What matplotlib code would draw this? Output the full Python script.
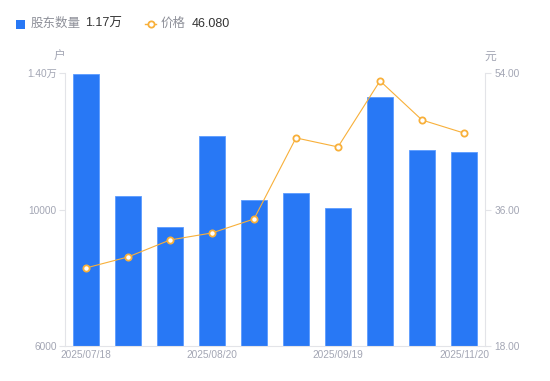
import matplotlib
matplotlib.use("Agg")
import matplotlib.pyplot as plt
from matplotlib.patches import Rectangle
from matplotlib.lines import Line2D

plt.rcParams['font.family'] = ['Liberation Sans', 'Noto Sans CJK SC', 'DejaVu Sans']

# data
dates = ["2025/07/18", "2025/07/31", "2025/08/10", "2025/08/20", "2025/08/29",
         "2025/09/10", "2025/09/19", "2025/09/30", "2025/10/31", "2025/11/20"]
holders = [13970, 10400, 9490, 12160, 10280, 10490, 10050, 13300, 11750, 11680]
price = [28.29, 29.74, 31.98, 32.91, 34.75, 45.44, 44.25, 52.96, 47.80, 46.08]
shown_ticks = [0, 3, 6, 9]
left_ticks = [6000, 10000, 14000]
left_tick_labels = ["6000", "10000", "1.40万"]
right_ticks = [18, 36, 54]

BLUE = "#2878f5"
ORANGE = "#f8b03a"
GRAY = "#a3a6b4"
AXIS = "#e3e4e8"

fig = plt.figure(figsize=(5.5, 3.81), dpi=100)
ax = fig.add_axes([65/550, 35/381, 420/550, 273/381])
x = list(range(len(dates)))
ax.bar(x, holders, width=0.6, color=BLUE, edgecolor="#5c9bff", linewidth=0.6, zorder=2)
ax.set_xlim(-0.5, len(dates) - 0.5)
ax.set_ylim(6000, 14000)
ax.set_yticks(left_ticks)
ax.set_yticklabels(left_tick_labels)
ax.set_xticks(shown_ticks)
ax.set_xticklabels([dates[i] for i in shown_ticks])

ax2 = ax.twinx()
ax2.plot(x, price, color=ORANGE, linewidth=0.8, marker="o", markersize=4.5,
         markerfacecolor="white", markeredgecolor=ORANGE, markeredgewidth=1.3, zorder=3)
ax2.set_ylim(18, 54)
ax2.set_yticks(right_ticks)
ax2.set_yticklabels(["%.2f" % v for v in right_ticks])

for a in (ax, ax2):
    for s in a.spines.values():
        s.set_visible(False)
    a.tick_params(colors=GRAY, labelsize=7.3, length=4, width=0.8, color=AXIS, pad=2)
ax.tick_params(axis="x", length=0, pad=3)
ax2.tick_params(axis="y", pad=3)
ax.spines["left"].set_visible(True)
ax.spines["left"].set_color(AXIS)
ax.spines["bottom"].set_visible(True)
ax.spines["bottom"].set_color(AXIS)
ax2.spines["right"].set_visible(True)
ax2.spines["right"].set_color(AXIS)

# unit labels
fig.text(59/550, 1 - 57/381, "户", color=GRAY, fontsize=8.5, ha="center", va="center")
fig.text(490/550, 1 - 57/381, "元", color=GRAY, fontsize=8.5, ha="center", va="center")

# legend drawn by hand
fig.patches.append(Rectangle((16/550, 1 - 29/381), 9/550, 9/381, transform=fig.transFigure,
                             facecolor=BLUE, edgecolor="none"))
fig.text(31/550, 1 - 24/381, "股东数量", color="#8e9099", fontsize=9, va="center")
fig.text(85/550, 1 - 24/381, "1.17万", color="#333333", fontsize=9, va="center")
fig.lines.append(Line2D([145/550, 156/550], [1 - 24/381, 1 - 24/381], transform=fig.transFigure,
                        color=ORANGE, linewidth=1))
fig.lines.append(Line2D([150.5/550], [1 - 24/381], transform=fig.transFigure, color=ORANGE,
                        marker="o", markersize=4.5, markerfacecolor="white", markeredgewidth=1.3))
fig.text(161/550, 1 - 24/381, "价格", color="#8e9099", fontsize=9, va="center")
fig.text(192/550, 1 - 24/381, "46.080", color="#333333", fontsize=9, va="center")

fig.savefig("out.png", dpi=100)
